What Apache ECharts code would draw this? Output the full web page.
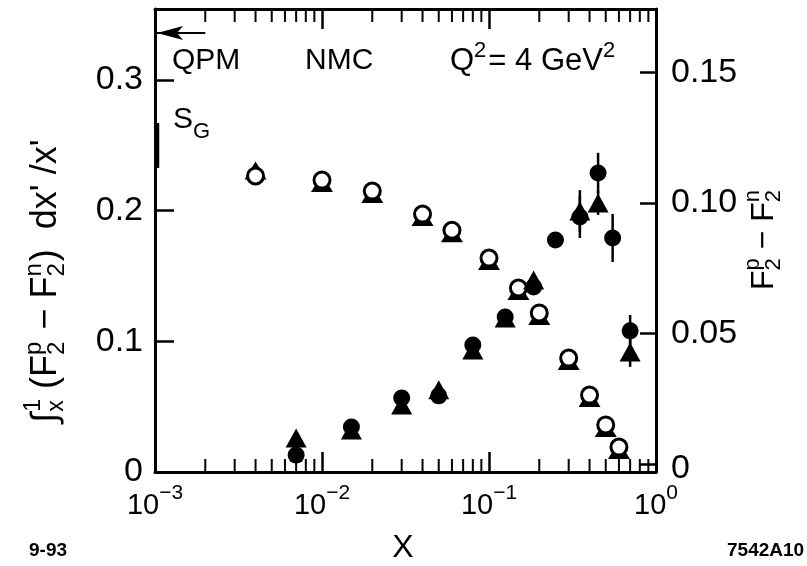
<!DOCTYPE html>
<html><head><meta charset="utf-8">
<script src="https://cdn.jsdelivr.net/npm/echarts@6/dist/echarts.min.js"></script>
<style>html,body{margin:0;padding:0;background:#fff}#c{width:807px;height:566px}</style>
</head><body><div id="c"></div>
<script>
// ---- data ----
// integral of (F2p - F2n) dx'/x'  (left axis)
const xInt = [0.004, 0.01, 0.02, 0.04, 0.06, 0.1, 0.15, 0.2, 0.3, 0.4, 0.5, 0.6];
const intCircle = [0.2265, 0.2234, 0.2150, 0.1974, 0.1850, 0.1637, 0.1408, 0.1217, 0.0872, 0.0589, 0.0360, 0.0191];
const intTriangle = [0.2307, 0.2211, 0.2127, 0.1951, 0.1827, 0.1614, 0.1385, 0.1194, 0.0849, 0.0566, 0.0337, 0.0168];
// F2p - F2n (right axis)
const xDiff = [0.007, 0.015, 0.03, 0.05, 0.08, 0.125, 0.185, 0.25, 0.35, 0.45, 0.55, 0.7];
const diffCircle = [0.0034, 0.0142, 0.0253, 0.0261, 0.0456, 0.0563, 0.0678, 0.0858, 0.0946, 0.1115, 0.0866, 0.0510];
const diffCircleErr = [0, 0, 0, 0, 0, 0, 0, 0, 0.008, 0.0077, 0.0092, 0.0061];
const diffTriangle = [0.0100, 0.0130, 0.0226, 0.0284, 0.0437, 0.0559, 0.0705, null, 0.0969, 0.1000, null, 0.0429];
const diffTriangleErr = [0, 0, 0, 0, 0, 0, 0, 0, 0.008, 0.0046, 0, 0.0057];
// QPM arrow and measured S_G bar (left axis)
const qpmValue = 0.336;
const qpmArrowX = [0.002, 0.001];
const sgRange = [0.2327, 0.2671];
// axes
const xRange = [0.001, 1];
const leftRange = [0, 0.3543];
const rightRange = [0, 0.1743];
const leftTicks = 0.1, rightTicks = 0.05;
const decadeExps = [-3, -2, -1];
const minorMultipliers = [2, 3, 4, 5, 6, 7, 8, 9];

const FONT = '"Liberation Sans", Arial, Helvetica, sans-serif';
const minorTicks = [];
decadeExps.forEach(e => minorMultipliers.forEach(m => minorTicks.push([m * Math.pow(10, e), 0])));

const chart = echarts.init(document.getElementById('c'), null, {renderer: 'canvas'});

const ctx = document.createElement('canvas').getContext('2d');
function tw(t, s, bold) { ctx.font = (bold ? 'bold ' : '') + s + 'px ' + FONT; return ctx.measureText(t).width; }
function txt(t, x, y, s, bold) {
  return {type: 'text', x: x, y: y, style: {text: t, fill: '#000', font: (bold ? 'bold ' : '') + s + 'px ' + FONT,
    textAlign: 'left', textVerticalAlign: 'middle', align: 'left', verticalAlign: 'middle'}};
}
function row(tokens, px, py, rot, center) {
  let x = 0; const kids = [];
  tokens.forEach(k => {
    if (k.t !== undefined) { kids.push(txt(k.t, x, k.dy || 0, k.s, k.b)); x += tw(k.t, k.s, k.b) + (k.gap || 0); }
    else {
      let mw = 0;
      if (k.sup) { kids.push(txt(k.sup, x, -k.up, k.s)); mw = Math.max(mw, tw(k.sup, k.s)); }
      if (k.sub) { kids.push(txt(k.sub, x, k.down, k.s)); mw = Math.max(mw, tw(k.sub, k.s)); }
      x += mw + (k.gap || 0);
    }
  });
  if (center) kids.forEach(c => { c.x -= x / 2; });
  return {type: 'group', x: px, y: py, rotation: rot || 0, children: kids, silent: true};
}

const leftTitle = row([
  {t: '\u222B', s: 36, gap: 1},
  {sup: '1', sub: 'x', s: 23, up: 12, down: 11, gap: 10},
  {t: '(F', s: 36},
  {sup: 'p', sub: '2', s: 24, up: 12, down: 11, gap: 2},
  {t: ' \u2212 F', s: 36},
  {sup: 'n', sub: '2', s: 24, up: 12, down: 11, gap: 2},
  {t: ')  dx\' /x\'', s: 36}
], 46, 281, Math.PI / 2, true);
const rightTitle = row([
  {t: 'F', s: 32},
  {sup: 'p', sub: '2', s: 22, up: 11, down: 10},
  {t: ' \u2212 F', s: 32},
  {sup: 'n', sub: '2', s: 22, up: 11, down: 10}
], 764, 240, Math.PI / 2, true);

const axisLineStyle = {color: '#000', width: 3};
function xAxisDef(pos, showLabel, gridIndex) {
  return {
    type: 'log', logBase: 10, min: xRange[0], max: xRange[1], position: pos, gridIndex: gridIndex || 0,
    axisLine: {show: true, onZero: false, lineStyle: axisLineStyle},
    axisTick: {show: true, inside: true, length: 20, lineStyle: {color: '#000', width: 2.5}},
    splitLine: {show: false}, minorTick: {show: false},
    axisLabel: {show: showLabel, margin: 11, color: '#000',
      formatter: v => { const e = Math.round(Math.log10(v)); return '{b|10}{s|' + (e < 0 ? '\u2212' + (-e) : e) + '}'; },
      rich: {b: {fontSize: 29, fontFamily: FONT, color: '#000', padding: [8, 0, 0, 0]},
             s: {fontSize: 21, fontFamily: FONT, color: '#000', verticalAlign: 'top'}}}
  };
}
const hiddenX = Object.assign(xAxisDef('bottom', false, 1), {show: false});

chart.setOption({
  animation: false,
  backgroundColor: '#fff',
  grid: [
    {left: 155, right: 151, top: 9, bottom: 94, show: false},
    {left: 155, right: 151, top: 9, bottom: 102, show: false}
  ],
  xAxis: [xAxisDef('bottom', true), xAxisDef('top', false), hiddenX],
  yAxis: [
    {type: 'value', gridIndex: 0, min: leftRange[0], max: leftRange[1], interval: leftTicks, position: 'left',
     axisLine: {show: true, lineStyle: axisLineStyle},
     axisTick: {show: true, inside: true, length: 19, lineStyle: {color: '#000', width: 2.5}},
     splitLine: {show: false},
     axisLabel: {margin: 12, color: '#000', fontSize: 34, fontFamily: FONT, showMaxLabel: false,
       formatter: v => v === 0 ? '0' : v.toFixed(1)}},
    {type: 'value', gridIndex: 0, min: 0, max: 1, position: 'right',
     axisLine: {show: true, lineStyle: axisLineStyle},
     axisTick: {show: false}, axisLabel: {show: false}, splitLine: {show: false}},
    {type: 'value', gridIndex: 1, min: rightRange[0], max: rightRange[1], interval: rightTicks, position: 'right',
     axisLine: {show: false},
     axisTick: {show: true, inside: true, length: 16, lineStyle: {color: '#000', width: 2.5}},
     splitLine: {show: false},
     axisLabel: {margin: 15, color: '#000', fontSize: 34, fontFamily: FONT, showMaxLabel: false,
       formatter: v => v === 0 ? '{z|0}' : v.toFixed(2),
       rich: {z: {fontSize: 34, fontFamily: FONT, color: '#000', padding: [10, 0, 0, 0]}}}}
  ],
  graphic: [
    leftTitle, rightTitle,
    row([{t: 'QPM', s: 30}], 172, 61),
    row([{t: 'NMC', s: 30}], 305, 61),
    row([{t: 'Q', s: 31}, {sup: '2', s: 22, up: 10, gap: 2}, {t: '= 4 GeV', s: 31}, {sup: '2', s: 22, up: 10}], 450, 61),
    row([{t: 'S', s: 30}, {sub: 'G', s: 22, down: 12}], 173, 120),
    row([{t: 'X', s: 32}], 403, 548, 0, true),
    row([{t: '9-93', s: 19, b: true}], 29, 551),
    row([{t: '7542A10', s: 19, b: true}], 727, 551)
  ],
  series: [
    {type: 'custom', name: 'minorTicks', xAxisIndex: 0, yAxisIndex: 0, silent: true, z: 1,
     data: minorTicks,
     renderItem: (params, api) => {
       const x = api.coord([api.value(0), leftRange[0]])[0];
       const cs = params.coordSys;
       const yb = cs.y + cs.height, yt = cs.y;
       const st = {stroke: '#000', lineWidth: 2};
       return {type: 'group', children: [
         {type: 'line', shape: {x1: x, y1: yb, x2: x, y2: yb - 13}, style: st},
         {type: 'line', shape: {x1: x, y1: yt, x2: x, y2: yt + 13}, style: st}]};
     }},
    {type: 'custom', name: 'QPM', xAxisIndex: 0, yAxisIndex: 0, silent: true, z: 5,
     data: [[qpmArrowX[0], qpmValue, qpmArrowX[1]]],
     renderItem: (params, api) => {
       const a = api.coord([api.value(0), api.value(1)]);
       const b = api.coord([api.value(2), api.value(1)]);
       const tip = b[0] + 2;
       const st = {stroke: '#000', lineWidth: 2};
       return {type: 'group', children: [
         {type: 'line', shape: {x1: a[0], y1: a[1], x2: tip, y2: b[1]}, style: st},
         {type: 'polygon', shape: {points: [[tip, b[1]], [tip + 26, b[1] - 7], [tip + 20, b[1]], [tip + 26, b[1] + 7]]},
          style: {fill: '#000'}}]};
     }},
    {type: 'custom', name: 'S_G', xAxisIndex: 0, yAxisIndex: 0, silent: true, z: 5,
     data: [[xRange[0], sgRange[0], sgRange[1]]],
     renderItem: (params, api) => {
       const a = api.coord([api.value(0), api.value(1)]);
       const b = api.coord([api.value(0), api.value(2)]);
       return {type: 'line', shape: {x1: a[0] + 2, y1: a[1], x2: b[0] + 2, y2: b[1]}, style: {stroke: '#000', lineWidth: 4.5}};
     }},
    {type: 'scatter', name: 'int-tri', xAxisIndex: 0, yAxisIndex: 0, z: 2,
     symbol: 'triangle', symbolSize: [22, 18],
     itemStyle: {color: '#000', opacity: 1},
     data: xInt.map((x, i) => [x, intTriangle[i]])},
    {type: 'scatter', name: 'int-circle', xAxisIndex: 0, yAxisIndex: 0, z: 3,
     symbol: 'circle', symbolSize: 16,
     itemStyle: {color: '#fff', borderColor: '#000', borderWidth: 3, opacity: 1},
     data: xInt.map((x, i) => [x, intCircle[i]])},
    {type: 'custom', name: 'err', xAxisIndex: 2, yAxisIndex: 2, silent: true, z: 2,
     data: xDiff.map((x, i) => [x, diffCircle[i], diffCircleErr[i]])
       .concat(xDiff.map((x, i) => [x, diffTriangle[i], diffTriangleErr[i]]))
       .filter(d => d[1] !== null && d[2] > 0),
     renderItem: (params, api) => {
       const a = api.coord([api.value(0), api.value(1) - api.value(2)]);
       const b = api.coord([api.value(0), api.value(1) + api.value(2)]);
       return {type: 'line', shape: {x1: a[0], y1: a[1], x2: b[0], y2: b[1]}, style: {stroke: '#000', lineWidth: 2.5}};
     }},
    {type: 'scatter', name: 'diff-tri', xAxisIndex: 2, yAxisIndex: 2, z: 3,
     symbol: 'triangle', symbolSize: [21, 19],
     itemStyle: {color: '#000', opacity: 1},
     data: xDiff.map((x, i) => [x, diffTriangle[i]]).filter(d => d[1] !== null)},
    {type: 'scatter', name: 'diff-circle', xAxisIndex: 2, yAxisIndex: 2, z: 3,
     symbol: 'circle', symbolSize: 17,
     itemStyle: {color: '#000', opacity: 1},
     data: xDiff.map((x, i) => [x, diffCircle[i]])}
  ]
});
</script></body></html>
